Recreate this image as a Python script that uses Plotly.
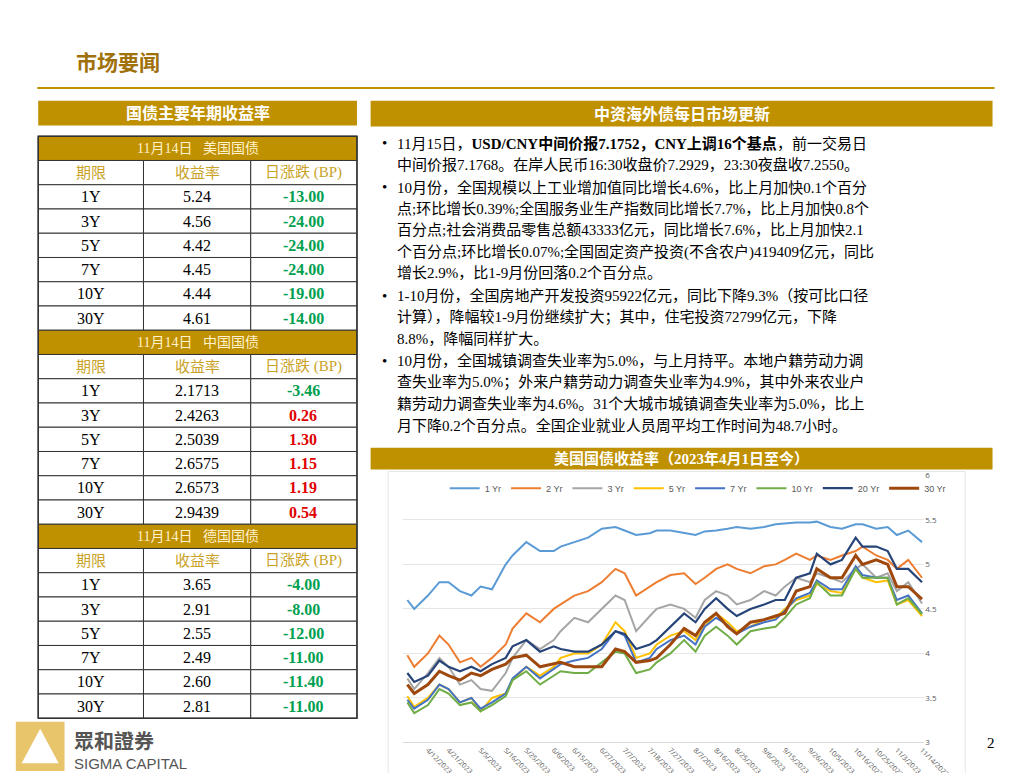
import plotly.graph_objects as go

W, H = 1031, 773
GOLD = "#BF9000"

dates = ["2023-04-03","2023-04-06","2023-04-12","2023-04-17","2023-04-21","2023-04-26","2023-05-01","2023-05-05","2023-05-10","2023-05-16","2023-05-19","2023-05-25","2023-05-31","2023-06-06","2023-06-09","2023-06-15","2023-06-21","2023-06-27","2023-07-03","2023-07-07","2023-07-12","2023-07-18","2023-07-21","2023-07-27","2023-08-02","2023-08-07","2023-08-11","2023-08-16","2023-08-21","2023-08-25","2023-08-31","2023-09-06","2023-09-11","2023-09-15","2023-09-20","2023-09-26","2023-09-29","2023-10-05","2023-10-10","2023-10-16","2023-10-19","2023-10-25","2023-10-30","2023-11-03","2023-11-08","2023-11-14"]
y1 = [4.6,4.5,4.65,4.8,4.8,4.7,4.65,4.75,4.72,5.0,5.1,5.25,5.15,5.15,5.2,5.25,5.3,5.4,5.42,5.38,5.33,5.35,5.38,5.38,5.35,5.33,5.37,5.38,5.4,5.42,5.4,5.42,5.45,5.46,5.47,5.47,5.48,5.42,5.4,5.45,5.45,5.4,5.42,5.33,5.38,5.25]
y2 = [3.98,3.85,4.0,4.2,4.1,3.9,3.95,3.85,3.95,4.1,4.28,4.45,4.35,4.5,4.55,4.65,4.7,4.8,4.95,4.9,4.65,4.75,4.8,4.88,4.9,4.78,4.85,4.95,5.0,4.95,4.9,4.98,5.0,5.05,5.12,5.05,5.1,5.05,5.1,5.15,5.2,5.1,5.05,4.95,5.05,4.85]
y3 = [3.72,3.6,3.78,3.95,3.85,3.65,3.7,3.6,3.58,3.78,3.95,4.15,4.05,4.15,4.25,4.4,4.35,4.5,4.65,4.6,4.25,4.42,4.5,4.55,4.5,4.4,4.6,4.7,4.65,4.55,4.6,4.7,4.65,4.75,4.85,4.8,4.9,4.85,4.8,4.95,5.0,4.85,4.9,4.7,4.8,4.56]
y5 = [3.52,3.4,3.5,3.65,3.6,3.45,3.5,3.35,3.5,3.55,3.7,3.85,3.75,3.85,3.95,4.0,4.0,4.1,4.35,4.25,3.95,4.0,4.1,4.2,4.25,4.15,4.3,4.45,4.35,4.25,4.3,4.38,4.4,4.5,4.6,4.65,4.78,4.7,4.68,4.95,4.85,4.8,4.82,4.55,4.6,4.42]
y7 = [3.48,3.38,3.48,3.65,3.6,3.45,3.5,3.38,3.45,3.55,3.72,3.85,3.72,3.82,3.88,3.92,3.95,4.05,4.25,4.2,3.9,3.95,4.05,4.15,4.2,4.1,4.3,4.4,4.32,4.22,4.3,4.35,4.38,4.48,4.62,4.68,4.82,4.72,4.72,4.98,4.88,4.85,4.85,4.6,4.65,4.45]
y10 = [3.45,3.33,3.42,3.6,3.55,3.42,3.45,3.35,3.42,3.52,3.7,3.8,3.65,3.75,3.8,3.78,3.78,3.9,4.02,4.0,3.78,3.82,3.9,4.0,4.15,4.02,4.2,4.3,4.2,4.1,4.25,4.28,4.3,4.4,4.55,4.62,4.8,4.65,4.65,4.95,4.85,4.85,4.85,4.55,4.62,4.44]
y20 = [3.78,3.68,3.75,3.92,3.85,3.8,3.85,3.8,3.88,3.95,4.08,4.15,4.02,4.08,4.05,4.02,4.02,4.1,4.25,4.22,4.05,4.1,4.15,4.3,4.45,4.35,4.5,4.62,4.5,4.42,4.5,4.55,4.6,4.6,4.85,4.9,5.12,5.0,5.05,5.3,5.2,5.2,5.15,4.95,4.95,4.8]
y30 = [3.65,3.55,3.65,3.8,3.75,3.7,3.78,3.75,3.82,3.88,3.95,3.98,3.85,3.88,3.9,3.85,3.85,3.85,4.05,4.02,3.9,3.92,3.95,4.1,4.28,4.2,4.35,4.45,4.3,4.22,4.35,4.38,4.42,4.45,4.7,4.75,4.95,4.85,4.85,5.1,5.0,5.05,5.0,4.75,4.75,4.61]
tick_dates = ["2023-04-12","2023-04-21","2023-05-05","2023-05-16","2023-05-25","2023-06-06","2023-06-15","2023-06-27","2023-07-07","2023-07-18","2023-07-27","2023-08-07","2023-08-16","2023-08-25","2023-09-06","2023-09-15","2023-09-26","2023-10-05","2023-10-16","2023-10-25","2023-11-03","2023-11-14"]

series_names = ["1 Yr","2 Yr","3 Yr","5 Yr","7 Yr","10 Yr","20 Yr","30 Yr"]
series_vals = [y1,y2,y3,y5,y7,y10,y20,y30]
series_colors = ["#5B9BD5","#ED7D31","#A5A5A5","#FFC000","#4472C4","#70AD47","#264478","#9E480E"]
series_widths = [2,2,2,2,2,2,2.2,3]

# tables
table_titles = ["11月14日   美国国债","11月14日   中国国债","11月14日   德国国债"]
col_heads = ["期限","收益率","日涨跌 (BP)"]
tenors = ["1Y","3Y","5Y","7Y","10Y","30Y"]
us_yield = ["5.24","4.56","4.42","4.45","4.44","4.61"]
us_chg = ["-13.00","-24.00","-24.00","-24.00","-19.00","-14.00"]
cn_yield = ["2.1713","2.4263","2.5039","2.6575","2.6573","2.9439"]
cn_chg = ["-3.46","0.26","1.30","1.15","1.19","0.54"]
de_yield = ["3.65","2.91","2.55","2.49","2.60","2.81"]
de_chg = ["-4.00","-8.00","-12.00","-11.00","-11.40","-11.00"]

bullets = [
 ["11月15日，<b>USD/CNY中间价报7.1752，CNY上调16个基点</b>，前一交易日",
  "中间价报7.1768。在岸人民币16:30收盘价7.2929，23:30夜盘收7.2550。"],
 ["10月份，全国规模以上工业增加值同比增长4.6%，比上月加快0.1个百分",
  "点;环比增长0.39%;全国服务业生产指数同比增长7.7%，比上月加快0.8个",
  "百分点;社会消费品零售总额43333亿元，同比增长7.6%，比上月加快2.1",
  "个百分点;环比增长0.07%;全国固定资产投资(不含农户)419409亿元，同比",
  "增长2.9%，比1-9月份回落0.2个百分点。"],
 ["1-10月份，全国房地产开发投资95922亿元，同比下降9.3%（按可比口径",
  "计算），降幅较1-9月份继续扩大；其中，住宅投资72799亿元，下降",
  "8.8%，降幅同样扩大。"],
 ["10月份，全国城镇调查失业率为5.0%，与上月持平。本地户籍劳动力调",
  "查失业率为5.0%；外来户籍劳动力调查失业率为4.9%，其中外来农业户",
  "籍劳动力调查失业率为4.6%。31个大城市城镇调查失业率为5.0%，比上",
  "月下降0.2个百分点。全国企业就业人员周平均工作时间为48.7小时。"],
]

SERIF = "Liberation Serif, Noto Sans CJK SC"
fig = go.Figure()
for n, v, c, w in zip(series_names, series_vals, series_colors, series_widths):
    fig.add_trace(go.Scatter(x=dates, y=v, name=n, mode="lines", line=dict(color=c, width=w)))

shapes, ann = [], []
def px(x): return x / W
def py(y): return 1 - y / H
def rect(x0, y0, x1, y1, fill=None, line=None, lw=1):
    shapes.append(dict(type="rect", xref="paper", yref="paper", x0=px(x0), x1=px(x1), y0=py(y1), y1=py(y0),
                       fillcolor=fill or "rgba(0,0,0,0)", line=dict(color=line or "rgba(0,0,0,0)", width=lw), layer="below"))
def txt(x, y, t, size=14, color="#000", xa="center", family=SERIF):
    ann.append(dict(xref="paper", yref="paper", x=px(x), y=py(y), text=t, showarrow=False, xanchor=xa, yanchor="middle",
                    font=dict(size=size, color=color, family=family)))

# title
txt(68, 50, "<b>市场要闻</b>", 21, "#A0700A", "left")
shapes.append(dict(type="line", xref="paper", yref="paper", x0=px(30), x1=px(1012), y0=py(75), y1=py(75), line=dict(color=GOLD, width=2)))
# left header
rect(31, 88, 358, 113, GOLD)
txt(195, 100.5, "<b>国债主要年期收益率</b>", 16, "#fff")
# tables
rh = 24.6
cols = [31, 139, 249, 358]
ccx = [85, 194, 303]
data = [(us_yield, us_chg), (cn_yield, cn_chg), (de_yield, de_chg)]
y = 124
for ti, (yl, ch) in enumerate(data):
    rect(31, y, 358, y + rh, GOLD, "#333")
    txt(195, y + rh/2, table_titles[ti], 14, "#FFF2CC")
    y += rh
    for r in range(7):
        for c in range(3):
            rect(cols[c], y, cols[c+1], y + rh, "#fff", "#333")
        if r == 0:
            for c in range(3):
                txt(ccx[c], y + rh/2, col_heads[c], 15, "#C9A227")
        else:
            v = ch[r-1]
            col = "#00A050" if v.startswith("-") else "#E00000"
            txt(ccx[0], y + rh/2, tenors[r-1], 16)
            txt(ccx[1], y + rh/2, yl[r-1], 16)
            txt(ccx[2], y + rh/2, "<b>" + v + "</b>", 16, col)
        y += rh
rect(31, 124, 358, y, None, "#333", 1.5)

# right header
rect(372, 88, 1010, 114, GOLD)
txt(691, 101, "<b>中资海外债每日市场更新</b>", 16, "#fff")
ly = 131
for b in bullets:
    txt(382, ly, "•", 15, "#000", "left")
    for line in b:
        txt(397, ly, line, 15, "#000", "left")
        ly += 21.8
    ly += 1
rect(372, 440, 1010, 462, GOLD)
txt(691, 451, "<b>美国国债收益率（2023年4月1日至今）</b>", 15, "#fff")
rect(390, 464, 982, 773, "#fff", "#E6E6E6")

# logo
rect(8, 718, 58, 768, "#E8C46A")
shapes.append(dict(type="path", xref="paper", yref="paper",
    path=f"M {px(33)} {py(725)} L {px(52)} {py(760)} L {px(14)} {py(760)} Z", fillcolor="#FFFFFF", line=dict(width=0)))
txt(66, 737, "<b>眾和證券</b>", 20, "#555", "left", "Noto Sans CJK TC")
txt(66, 760, "SIGMA CAPITAL", 15, "#555", "left", "Liberation Sans")
txt(1008, 740, "2", 15, "#000", "center")

fig.update_layout(
    width=W, height=H, margin=dict(l=0, r=0, t=0, b=0),
    paper_bgcolor="#fff", plot_bgcolor="#fff", shapes=shapes, annotations=ann,
    legend=dict(orientation="h", x=448/W, y=py(481), xanchor="left", yanchor="middle", bgcolor="rgba(0,0,0,0)",
                font=dict(size=9, color="#595959", family="Liberation Sans"), itemwidth=30, tracegroupgap=0),
    xaxis=dict(domain=[405/W, 940/W], type="date", tickvals=tick_dates, tickformat="%-m/%-d/%Y", tickangle=45,
               tickfont=dict(size=7, color="#595959"), showgrid=False, showline=True, linecolor="#D9D9D9",
               range=["2023-04-01", "2023-11-15"]),
    yaxis=dict(domain=[1-739/H, 1-468/H], range=[3, 6], side="right", dtick=0.5, tickfont=dict(size=8, color="#595959"),
               gridcolor="#E6E6E6", zeroline=False, tickformat="~g"),
)
fig.write_html("out.html")
